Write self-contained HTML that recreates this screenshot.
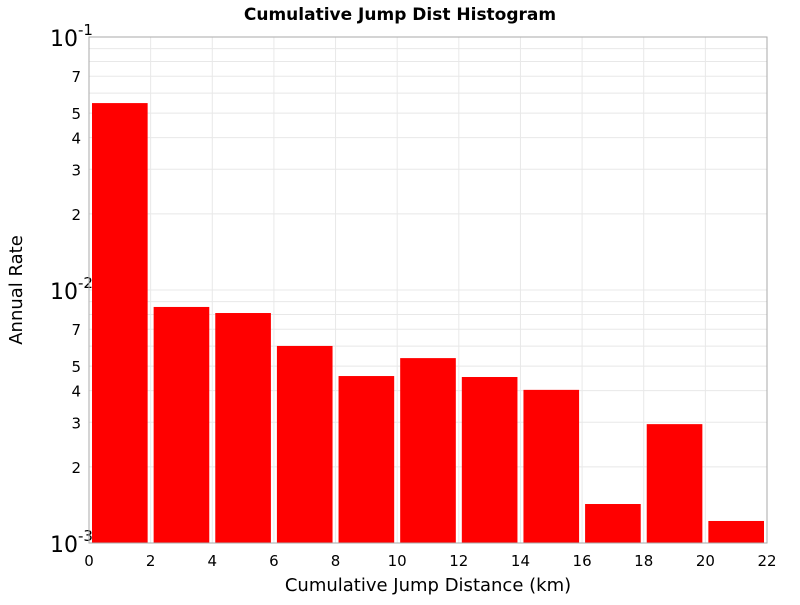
<!DOCTYPE html>
<html><head><meta charset="utf-8"><style>body{margin:0;background:#fff}svg{font-family:"DejaVu Sans","Liberation Sans",sans-serif}</style></head>
<body>
<svg id="c" width="800" height="600">
<text x="400" y="20" text-anchor="middle" font-size="17" font-weight="bold">Cumulative Jump Dist Histogram</text>
<text x="428" y="591" text-anchor="middle" font-size="18">Cumulative Jump Distance (km)</text>
<text transform="translate(22,290) rotate(-90)" text-anchor="middle" font-size="18">Annual Rate</text>
<g id="grid"></g><g id="bars"></g><g id="ticks"></g>
<rect x="89" y="37" width="678" height="506" fill="none" stroke="#aaa"/>
</svg>
<script>
const binStarts=[0,2,4,6,8,10,12,14,16,18,20];
const binWidth=2;
const rates=[0.0548,0.00857,0.00811,0.00601,0.00457,0.00538,0.00453,0.00403,0.001426,0.00295,0.001222];
const xTicks=[0,2,4,6,8,10,12,14,16,18,20,22];
const yMinor=[2,3,4,5,7];
const ns="http://www.w3.org/2000/svg";
const L=89,R=767,T=37,B=543;
const xs=v=>L+(v/22)*(R-L);
const ys=v=>B-(Math.log10(v)+3)/2*(B-T);
function mk(t,a,p){const e=document.createElementNS(ns,t);for(const k in a)e.setAttribute(k,a[k]);(p||document.getElementById('c')).appendChild(e);return e;}
const g=document.getElementById('grid'),bg=document.getElementById('bars'),tg=document.getElementById('ticks');
xTicks.forEach(v=>{const l=mk('line',{x1:xs(v),x2:xs(v),y1:T,y2:B,stroke:'#e8e8e8'},g);
const t=mk('text',{x:xs(v),y:566,'text-anchor':'middle','font-size':15},tg);t.textContent=v;});
[-3,-2].forEach(d=>{for(let m=1;m<10;m++){const v=m*Math.pow(10,d);const y=ys(v);
const l=mk('line',{x1:L,x2:R,y1:y,y2:y,stroke:'#e8e8e8'},g);
if(yMinor.includes(m)){const t=mk('text',{x:81,y:y+6,'text-anchor':'end','font-size':15},tg);t.textContent=m;}}});
[-3,-2,-1].forEach(d=>{const y=ys(Math.pow(10,d));const t=mk('text',{x:50,y:y+9,'font-size':22},tg);
t.textContent='10';const s=mk('tspan',{dy:-11,'font-size':15},t);s.textContent=String(d);});
binStarts.forEach((s,i)=>{const x0=xs(s)+3,x1=xs(s+binWidth)-3,y=ys(rates[i]);
const r=mk('rect',{x:x0,y:y,width:x1-x0,height:B-y,fill:'#ff0000'},bg);});
</script>
</body></html>
